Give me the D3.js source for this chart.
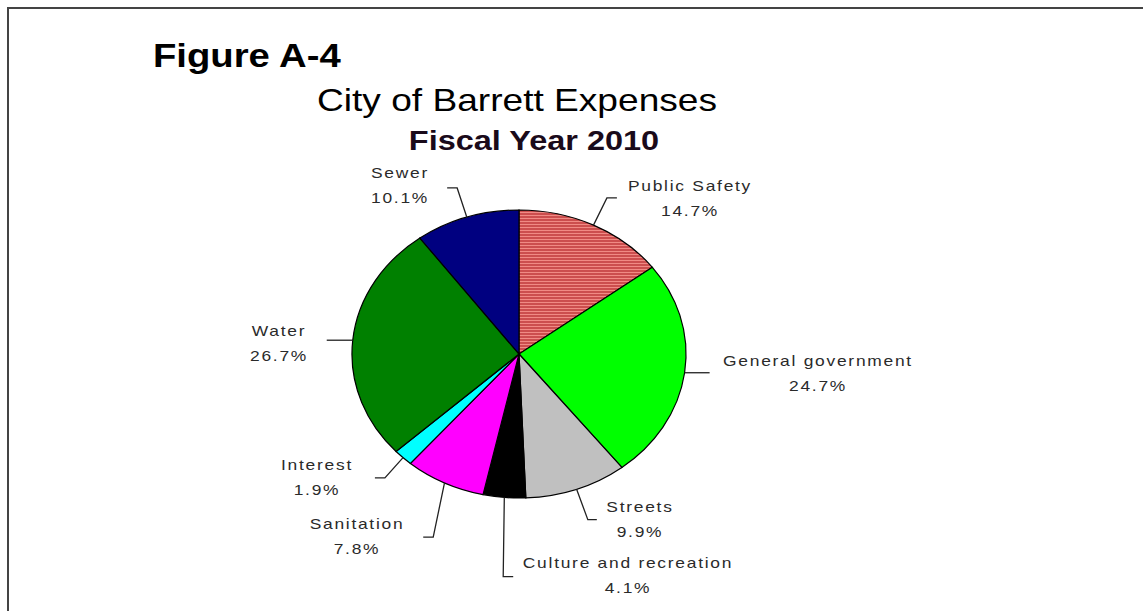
<!DOCTYPE html>
<html>
<head>
<meta charset="utf-8">
<script src="https://cdn.jsdelivr.net/npm/d3@7"></script>
<style>
  html, body { margin: 0; padding: 0; background: #fff; }
  svg { display: block; }
</style>
</head>
<body>
<svg id="chart" width="1143" height="611"></svg>
<script>
// chart values, clockwise from 12 o'clock
const categories = ["Public Safety", "General government", "Streets", "Culture and recreation",
                    "Sanitation", "Interest", "Water", "Sewer"]
const shares = [14.7, 24.7, 9.9, 4.1, 7.8, 1.9, 26.7, 10.1]
const fills = ["url(#hatch)", "#00ff00", "#c0c0c0", "#000000", "#ff00ff", "#00ffff", "#008000", "#000080"]

const figureLabel = "Figure A-4"
const title = "City of Barrett Expenses"
const subtitle = "Fiscal Year 2010"

// the original picture is stretched sideways, so everything is drawn in a scaled group
const sx = 1.16
const width = 1143
const height = 611
const cx = 519, cy = 354, r = 144

// leader line / label layout (screen coords for label centres)
const labelLayout = [
    {angle: 25.9,  elbowR: 173.5, run: 10,  x: 690, y: 191},
    {angle: null,  elbowR: 144,   run: 25,  x: 818, y: 366},
    {angle: 160.3, elbowR: 176,   run: 9,   x: 640, y: 512},
    {angle: 183.5, elbowR: 223,   run: 10,  x: 628, y: 568},
    {angle: 202,   elbowR: 197.4, run: -10, x: 357, y: 529},
    {angle: 223,   elbowR: 169.5, run: -10, x: 317, y: 470},
    {angle: null,  elbowR: 144,   run: -26, x: 279, y: 336},
    {angle: 342.2, elbowR: 174.4, run: -10, x: 400, y: 178}
]

const svg = d3.select("#chart")

const defs = svg.append("defs")
const pat = defs.append("pattern")
    .attr("id", "hatch")
    .attr("patternUnits", "userSpaceOnUse")
    .attr("width", 4)
    .attr("height", 3)
pat.append("rect").attr("width", 4).attr("height", 3).attr("fill", "#f08a84")
pat.append("rect").attr("width", 4).attr("height", 2).attr("fill", "#cc4e4e")

// frame (top + left edges only are visible)
svg.append("path")
    .attr("d", `M8,${height} L8,8 L${width},8`)
    .attr("fill", "none")
    .attr("stroke", "#444")
    .attr("stroke-width", 2)

const g = svg.append("g").attr("transform", `scale(${sx},1)`)

// titles
g.append("text")
    .attr("x", 153 / sx).attr("y", 67)
    .attr("font-family", "Liberation Sans, Arial, sans-serif")
    .attr("font-weight", "bold")
    .attr("font-size", "33px")
    .attr("fill", "#000")
    .text(figureLabel)

g.append("text")
    .attr("x", 517 / sx).attr("y", 111)
    .attr("text-anchor", "middle")
    .attr("font-family", "Liberation Sans, Arial, sans-serif")
    .attr("font-size", "32px")
    .attr("fill", "#000")
    .text(title)

g.append("text")
    .attr("x", 534 / sx).attr("y", 150)
    .attr("text-anchor", "middle")
    .attr("font-family", "Liberation Sans, Arial, sans-serif")
    .attr("font-weight", "bold")
    .attr("font-size", "28px")
    .attr("fill", "#1a0a1a")
    .text(subtitle)

// pie
const pie = d3.pie().sort(null).value(d => d)
const arcs = pie(shares)
const arc = d3.arc().innerRadius(0).outerRadius(r)

const pieG = g.append("g").attr("transform", `translate(${cx / sx},${cy})`)

pieG.selectAll("path.slice")
    .data(arcs)
    .join("path")
    .attr("class", "slice")
    .attr("d", arc)
    .attr("fill", (d, i) => fills[i])
    .attr("stroke", "#000")
    .attr("stroke-width", 1.2)
    .attr("vector-effect", "non-scaling-stroke")

// polar helper, degrees clockwise from top, in raw (unscaled) coords
const polar = (deg, rad) => {
    const a = deg * Math.PI / 180
    return [rad * Math.sin(a), -rad * Math.cos(a)]
}

arcs.forEach((d, i) => {
    const lay = labelLayout[i]
    const mid = (d.startAngle + d.endAngle) / 2 * 180 / Math.PI
    const p0 = polar(mid, r)
    const p1 = polar(lay.angle === null ? mid : lay.angle, lay.elbowR)
    const p2 = [p1[0] + lay.run / sx, p1[1]]
    pieG.append("path")
        .attr("d", d3.line()([p0, p1, p2]))
        .attr("fill", "none")
        .attr("stroke", "#222")
        .attr("stroke-width", 1.3)
        .attr("vector-effect", "non-scaling-stroke")

    const t = g.append("text")
        .attr("text-anchor", "middle")
        .attr("font-family", "Liberation Sans, Arial, sans-serif")
        .attr("font-size", "15px")
        .attr("letter-spacing", "1.5px")
        .attr("fill", "#2a2a2a")
    t.append("tspan")
        .attr("x", lay.x / sx).attr("y", lay.y)
        .text(categories[i])
    t.append("tspan")
        .attr("x", lay.x / sx).attr("y", lay.y + 25.5)
        .text(shares[i].toFixed(1) + "%")
})
</script>
</body>
</html>
